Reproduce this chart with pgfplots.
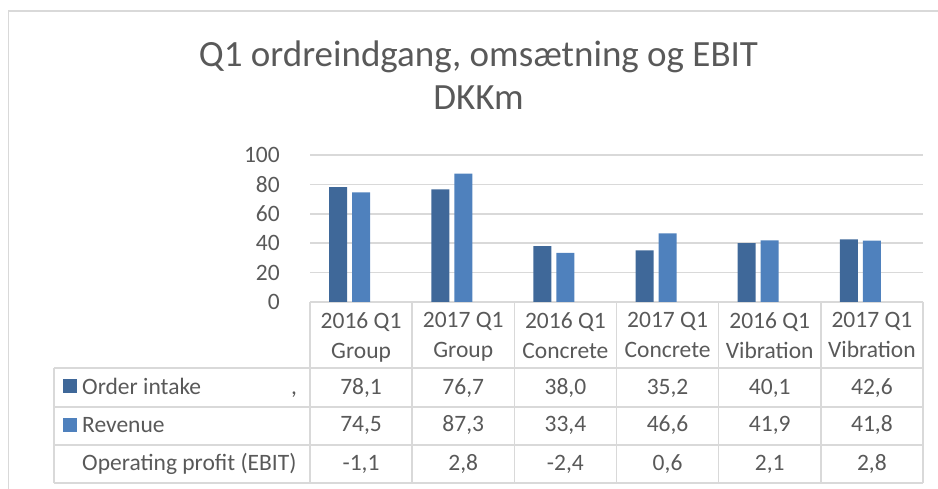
\documentclass[border=0pt]{standalone}
\usepackage{pgfplots}
\pgfplotsset{compat=1.18}
\usepackage{pgfplotstable}
\usepackage{fontspec}
\setmainfont{Carlito}
\definecolor{txt}{HTML}{595959}
\definecolor{gridc}{HTML}{D9D9D9}
\definecolor{darkb}{HTML}{3F6899}
\definecolor{lightb}{HTML}{4F81BD}

\pgfplotstableread{
x order revenue ebit
0 78.1 74.5 -1.1
1 76.7 87.3 2.8
2 38.0 33.4 -2.4
3 35.2 46.6 0.6
4 40.1 41.9 2.1
5 42.6 41.8 2.8
}\data

\newcommand\tf{\fontsize{23.5}{30}\selectfont}
\newcommand\rowplot[2]{%
\addplot[draw=none, mark=none, point meta=explicit,
  nodes near coords={\pgfmathprintnumber[fixed,fixed zerofill,precision=1,use comma,assume math mode=true]{\pgfplotspointmeta}},
  every node near coord/.append style={anchor=base, font=\tf, text=txt, inner sep=0pt}]
  table[x=x, y expr=#2, meta=#1] {\data};}

\begin{document}
\begin{tikzpicture}[x=1pt,y=1pt]
\useasboundingbox (0,0) rectangle (938,488);
\draw[gridc, line width=1.5pt] (8.5,-5) -- (8.5,477) -- (950,477);
\node[txt, font=\fontsize{37}{43}\selectfont, anchor=base, inner sep=0pt] at (478.5,421) {Q1 ordreindgang, omsætning og EBIT};
\node[txt, font=\fontsize{37}{43}\selectfont, anchor=base, inner sep=0pt] at (478.5,378) {DKKm};
\begin{axis}[at={(310pt,186pt)}, anchor=south west, scale only axis,
  width=613pt, height=147pt, xmin=-0.5, xmax=5.5, ymin=0, ymax=100,
  ytick={0,20,...,100}, ymajorgrids, grid style={gridc, line width=1.5pt},
  axis line style={draw=none}, major tick length=0pt, clip=false,
  xtick={0,...,5},
  xticklabels={{2016 Q1\\Group},{2017 Q1\\Group},{2016 Q1\\Concrete},{2017 Q1\\Concrete},{2016 Q1\\Vibration},{2017 Q1\\Vibration}},
  xticklabel style={align=center, font=\tf, text=txt, anchor=north, inner sep=0pt, yshift=-10pt},
  yticklabel style={font=\tf, text=txt, anchor=east, inner sep=0pt, xshift=-30pt},
  /pgf/number format/assume math mode=true,
]
\addplot[ybar, bar width=18pt, bar shift=-23pt, fill=darkb, draw=none] table[x=x,y=order]{\data};
\addplot[ybar, bar width=18pt, bar shift=0pt, fill=lightb, draw=none] table[x=x,y=revenue]{\data};
\addplot[ybar, bar width=18pt, bar shift=23pt, fill=none, draw=none] table[x=x,y=ebit]{\data};
\rowplot{order}{-62.6}
\rowplot{revenue}{-88.4}
\rowplot{ebit}{-114.3}
\end{axis}
% table grid
\begin{scope}[gridc, line width=1.5pt]
\draw (54,120) -- (923,120);
\draw (54,81) -- (923,81);
\draw (54,43) -- (923,43);
\draw (54,5) -- (923,5);
\draw (54,120) -- (54,5);
\foreach \xx in {310,412.2,514.3,616.5,718.7,820.8,923} {\draw (\xx,186) -- (\xx,5);}
\end{scope}
% legend keys
\fill[darkb] (63,95) rectangle (77,109);
\fill[lightb] (63,56) rectangle (77,70);
\node[txt, font=\tf, anchor=base west, inner sep=0pt] at (82,94) {Order intake};
\node[txt, font=\tf, anchor=base, inner sep=0pt] at (294,94) {,};
\node[txt, font=\tf, anchor=base west, inner sep=0pt] at (82,56) {Revenue};
\node[txt, font=\tf, anchor=base west, inner sep=0pt] at (82,18) {Operating profit (EBIT)};
\end{tikzpicture}
\end{document}
